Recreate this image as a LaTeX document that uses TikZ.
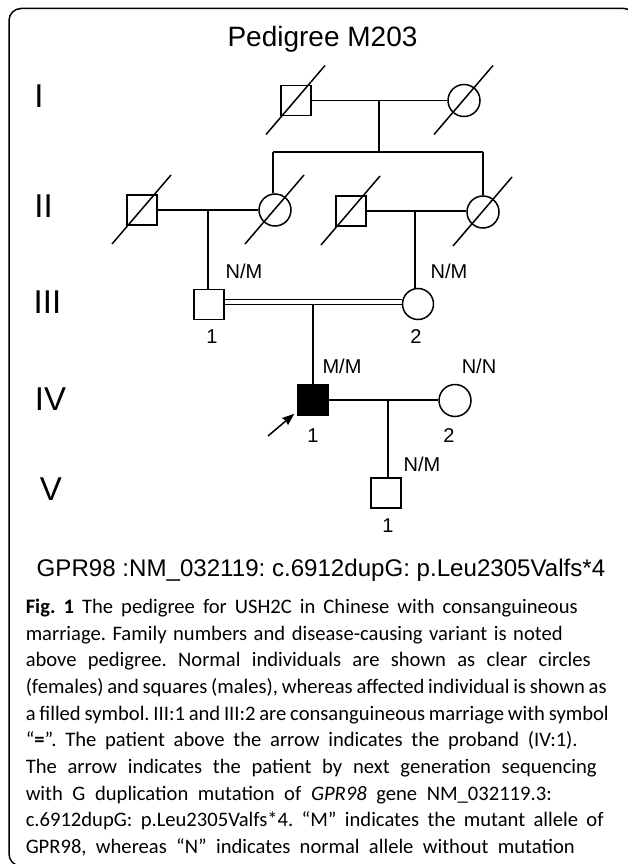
\documentclass[tikz,border=0pt]{standalone}
\usepackage{fontspec}
\setmainfont{Liberation Sans}
\newfontfamily\capfont{Carlito}
\usetikzlibrary{arrows.meta,calc}
\begin{document}
\frenchspacing
\begin{tikzpicture}[x=1pt,y=-1pt,
  line width=1.5pt,
  male/.style={draw,rectangle,minimum width=30pt,minimum height=30pt,inner sep=0pt},
  female/.style={draw,circle,minimum size=32pt,inner sep=0pt},
  affected/.style={fill=black},
  gen/.style={font=\fontsize{33}{36}\selectfont,inner sep=0pt,anchor=base},
  lab/.style={font=\fontsize{20}{22}\selectfont,inner sep=0pt,anchor=base},
  capline/.style={font=\capfont\fontsize{20.6}{22}\selectfont,inner sep=0pt,anchor=base west},
  rel/.style={line width=1.5pt},
  dead/.style={line width=1.5pt}
]
\useasboundingbox (0,0) rectangle (627,864);
\fill[white] (0,0) rectangle (627,864);
\draw[line width=1.5pt,rounded corners=12pt] (9,8.5) rectangle (636,866);

% title
\node[font=\fontsize{28}{30}\selectfont,inner sep=0pt,anchor=base] (title) at (322.5,47) {Pedigree M203};

% generation labels
\node[gen] (gI) at (39,108) {I};
\node[gen] (gII) at (43.5,217) {II};
\node[gen] (gIII) at (47.5,313) {III};
\node[gen] (gIV) at (50.5,410) {IV};
\node[gen] (gV) at (51,500) {V};

% individuals
\node[male] (I1) at (296,100.5) {};
\node[female] (I2) at (464,100.5) {};
\node[male] (II1) at (142,210) {};
\node[female] (II2) at (275,210) {};
\node[male] (II3) at (351,211) {};
\node[female] (II4) at (483,212) {};
\node[male] (III1) at (209,304.5) {};
\node[female,minimum size=31pt] (III2) at (418,304) {};
\node[male,affected] (IV1) at (313,400) {};
\node[female] (IV2) at (455,400.5) {};
\node[male] (V1) at (386,493) {};

% deceased slashes
\foreach \p in {I1,I2,II1,II2,II3,II4}{
  \draw[dead] ($(\p.center)+(-30,34)$) -- ($(\p.center)+(29,-35)$);
}

% generation I
\draw[rel] (I1.east) -- (I2.west);
\coordinate (dI) at (379,100.5);
\coordinate (sibL) at (273,152);
\coordinate (sibR) at (483,152);
\draw[rel] (dI) -- (dI |- sibL);
\draw[rel] (sibL) -- (sibR);
\draw[rel] (sibL) -- (sibL |- II2.north);
\draw[rel] (sibR) -- (sibR |- II4.north);

% generation II
\draw[rel] (II1.east) -- (II2.west);
\coordinate (dII1) at (208,210);
\draw[rel] (dII1) -- (dII1 |- III1.north);
\draw[rel] (II3.east) -- (II4.west |- II3.east);
\coordinate (dII2) at (415,212);
\draw[rel] (dII2) -- (dII2 |- III2.north);

% generation III consanguineous
\draw[line width=1.3pt] ($(III1.east)+(0,-5.2)$) -- ($(III2.west)+(0,-4.7)$);
\draw[line width=1.3pt] ($(III1.east)+(0,0)$) -- ($(III2.west)+(0,0.5)$);
\coordinate (dIII) at (313,304.5);
\draw[rel] (dIII) -- (dIII |- IV1.north);

% generation IV
\draw[rel] (IV1.east) -- (IV2.west |- IV1.east);
\coordinate (dIV) at (388,400);
\draw[rel] (dIV) -- (dIV |- V1.north);

% proband arrow
\coordinate (arrS) at (268,436);
\draw[line width=1.5pt,-{Stealth[length=12pt,width=9pt,inset=1pt]}] (arrS) -- ($(IV1.south west)+(-3,-2)$);

% labels
\node[lab] (gt1) at (244,278) {N/M};
\node[lab] (gt2) at (449,278) {N/M};
\node[lab] (gt3) at (342,373) {M/M};
\node[lab] (gt4) at (479,373) {N/N};
\node[lab] (gt5) at (422,471) {N/M};
\node[lab] (n1) at (212,343) {1};
\node[lab] (n2) at (416,343) {2};
\node[lab] (n3) at (313,442) {1};
\node[lab] (n4) at (449,442) {2};
\node[lab] (n5) at (388,532) {1};

% variant
\node[font=\fontsize{24.1}{26}\selectfont,inner sep=0pt,anchor=base] (var) at (321,576) {GPR98 :NM\_032119: c.6912dupG: p.Leu2305Valfs*4};

% caption
\node[capline] (c1) at (25,613.3) {\makebox[552pt][s]{\textbf{Fig. 1} The pedigree for USH2C in Chinese with consanguineous}};
\node[capline] (c2) at (25,640) {\makebox[537pt][s]{marriage. Family numbers and disease-causing variant is noted}};
\node[capline] (c3) at (25,666.7) {\makebox[565pt][s]{above pedigree. Normal individuals are shown as clear circles}};
\node[capline] (c4) at (25,693.3) {\makebox[581pt][s]{(females) and squares (males), whereas affected individual is shown as}};
\node[capline] (c5) at (25,720) {\makebox[583pt][s]{a filled symbol. III:1 and III:2 are consanguineous marriage with symbol}};
\node[capline] (c6) at (25,746.7) {\makebox[552pt][s]{“\textbf{=}”. The patient above the arrow indicates the proband (IV:1).}};
\node[capline] (c7) at (25,773.3) {\makebox[571pt][s]{The arrow indicates the patient by next generation sequencing}};
\node[capline] (c8) at (25,800) {\makebox[526pt][s]{with G duplication mutation of \textit{GPR98} gene NM\_032119.3:}};
\node[capline] (c9) at (25,826.7) {\makebox[578pt][s]{c.6912dupG: p.Leu2305Valfs*4. “M” indicates the mutant allele of}};
\node[capline] (c10) at (25,853.3) {\makebox[549pt][s]{GPR98, whereas “N” indicates normal allele without mutation}};
\end{tikzpicture}
\end{document}
